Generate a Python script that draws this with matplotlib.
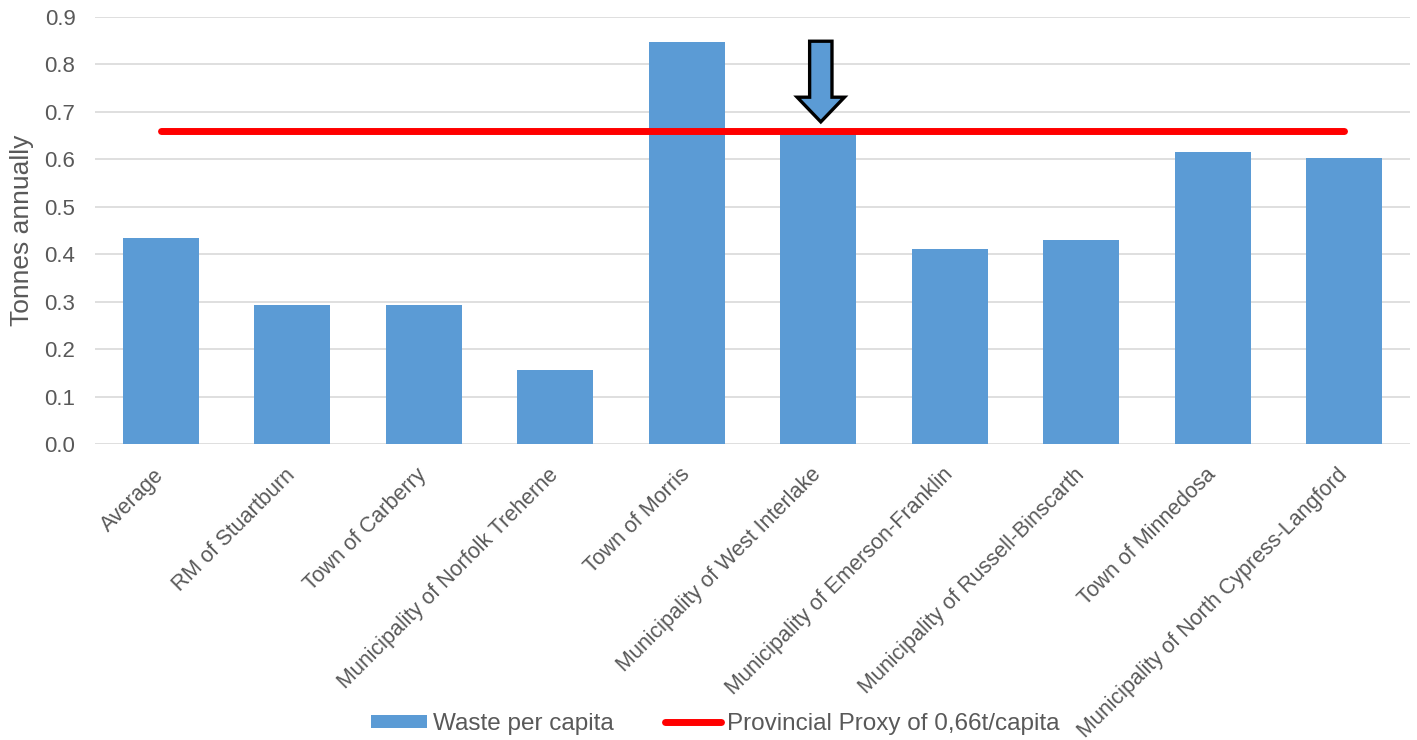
import matplotlib
matplotlib.use("Agg")
import matplotlib.pyplot as plt
from matplotlib.patches import FancyArrow
import numpy as np

plt.rcParams['font.family'] = ['Liberation Sans', 'DejaVu Sans']

categories = [
    "Average",
    "RM of Stuartburn",
    "Town of Carberry",
    "Municipality of Norfolk Treherne",
    "Town of Morris",
    "Municipality of West Interlake",
    "Municipality of Emerson-Franklin",
    "Municipality of Russell-Binscarth",
    "Town of Minnedosa",
    "Municipality of North Cypress-Langford",
]
waste_per_capita = [0.435, 0.292, 0.292, 0.156, 0.847, 0.66, 0.411, 0.431, 0.615, 0.603]
provincial_proxy = 0.66
highlight = "Municipality of West Interlake"
y_ticks = [0.0, 0.1, 0.2, 0.3, 0.4, 0.5, 0.6, 0.7, 0.8, 0.9]

bar_color = "#5b9bd5"
text_color = "#595959"
grid_color = "#d9d9d9"

fig = plt.figure(figsize=(14.17, 7.4), dpi=100)
ax = fig.add_axes([0.067, 0.4, 0.928, 0.577])

x = np.arange(len(categories))
bars = ax.bar(x, waste_per_capita, width=0.58, color=bar_color, zorder=2,
              label="Waste per capita")
proxy_line, = ax.plot([x[0], x[-1]], [provincial_proxy, provincial_proxy],
                      color="#ff0000", lw=5, solid_capstyle="round", zorder=3,
                      label="Provincial Proxy of 0,66t/capita")

# block arrow pointing at the highlighted municipality
hi = categories.index(highlight)
tip = waste_per_capita[hi] + 0.019
top = 0.849
ax.add_patch(FancyArrow(x[hi] + 0.02, top, 0, tip - top, width=0.17,
                        head_width=0.36, head_length=0.052,
                        length_includes_head=True, facecolor=bar_color,
                        edgecolor="black", lw=2.4, zorder=4))

ax.set_xlim(-0.5, len(categories) - 0.5)
ax.set_ylim(0, 0.9)
ax.set_yticks(y_ticks)
ax.set_yticklabels([f"{v:.1f}" for v in y_ticks])
ax.yaxis.grid(True, color=grid_color, lw=1.2, zorder=0)
ax.set_axisbelow(True)
for s in ax.spines.values():
    s.set_visible(False)

ax.tick_params(axis="y", length=0, pad=14, labelsize=16, labelcolor=text_color)
ax.tick_params(axis="x", length=0, pad=20, labelcolor=text_color)
ax.set_xticks(x)
ax.set_xticklabels(categories, rotation=45, ha="right", va="center",
                   rotation_mode="anchor", fontsize=15.5, color=text_color)

ax.set_ylabel("Tonnes annually", fontsize=19, color=text_color)
ax.yaxis.set_label_coords(-0.046, 0.5)

ax.legend(handles=[bars, proxy_line], loc="center",
          bbox_to_anchor=(0.505, 0.022), bbox_transform=fig.transFigure,
          ncol=2, frameon=False, fontsize=17.5, labelcolor=text_color,
          handlelength=2.3, handleheight=0.45, handletextpad=0.25,
          columnspacing=2.1, borderpad=0, borderaxespad=0)

fig.savefig("out.png", dpi=100)
